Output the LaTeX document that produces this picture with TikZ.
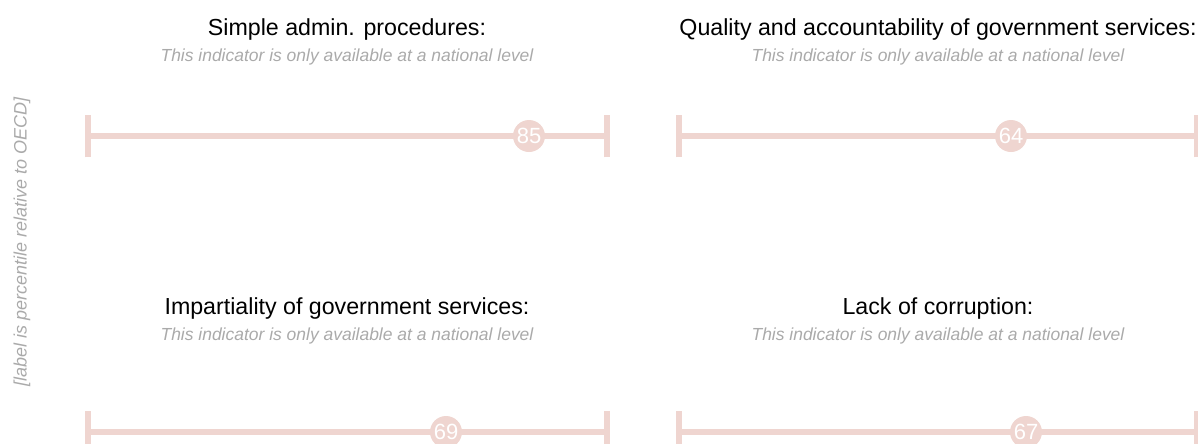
\documentclass[tikz,border=0pt]{standalone}
\usepackage{fontspec}
\setmainfont{Liberation Sans}
\definecolor{barpink}{RGB}{239,213,208}
\definecolor{notegray}{RGB}{170,170,170}

\begin{document}
\begin{tikzpicture}[x=0.75pt,y=-0.75pt,
  bar/.style={draw=barpink,line width=4.5pt},
  endbar/.style={draw=barpink,line width=4.5pt},
  score/.style={circle,fill=barpink,text=white,inner sep=0pt,minimum size=24pt,font=\fontsize{16.5}{16.5}\selectfont},
  title/.style={font=\fontsize{17.4}{20}\selectfont},
  note/.style={text=notegray,font=\fontsize{13.1}{15}\selectfont\itshape}]

\useasboundingbox (0,0) rectangle (1198,443);

% side label
\node[note,rotate=90,font=\fontsize{13.5}{15}\selectfont\itshape] (side) at (22,242) {[label is percentile relative to OECD]};

% top left
\node[title] (t1) at (347,29) {Simple admin. procedures:};
\node[note] (n1) at (347,57) {This indicator is only available at a national level};
\coordinate (a1) at (88,136);
\coordinate (b1) at (607,136);
\draw[bar] (a1) -- (b1);
\draw[endbar] ([yshift=-16]a1) -- ([yshift=16]a1);
\draw[endbar] ([yshift=-16]b1) -- ([yshift=16]b1);
\node[score] (s1) at (529,136) {85};

% top right
\node[title] (t2) at (938,29) {Quality and accountability of government services:};
\node[note] (n2) at (938,57) {This indicator is only available at a national level};
\coordinate (a2) at (679,136);
\coordinate (b2) at (1197,136);
\draw[bar] (a2) -- (b2);
\draw[endbar] ([yshift=-16]a2) -- ([yshift=16]a2);
\draw[endbar] ([yshift=-16]b2) -- ([yshift=16]b2);
\node[score] (s2) at (1011,136) {64};

% bottom left
\node[title] (t3) at (347,308) {Impartiality of government services:};
\node[note] (n3) at (347,336) {This indicator is only available at a national level};
\coordinate (a3) at (88,432);
\coordinate (b3) at (607,432);
\draw[bar] (a3) -- (b3);
\draw[endbar] ([yshift=-16]a3) -- ([yshift=16]a3);
\draw[endbar] ([yshift=-16]b3) -- ([yshift=16]b3);
\node[score] (s3) at (446,432) {69};

% bottom right
\node[title] (t4) at (938,308) {Lack of corruption:};
\node[note] (n4) at (938,336) {This indicator is only available at a national level};
\coordinate (a4) at (679,432);
\coordinate (b4) at (1197,432);
\draw[bar] (a4) -- (b4);
\draw[endbar] ([yshift=-16]a4) -- ([yshift=16]a4);
\draw[endbar] ([yshift=-16]b4) -- ([yshift=16]b4);
\node[score] (s4) at (1026,432) {67};

\end{tikzpicture}
\end{document}
